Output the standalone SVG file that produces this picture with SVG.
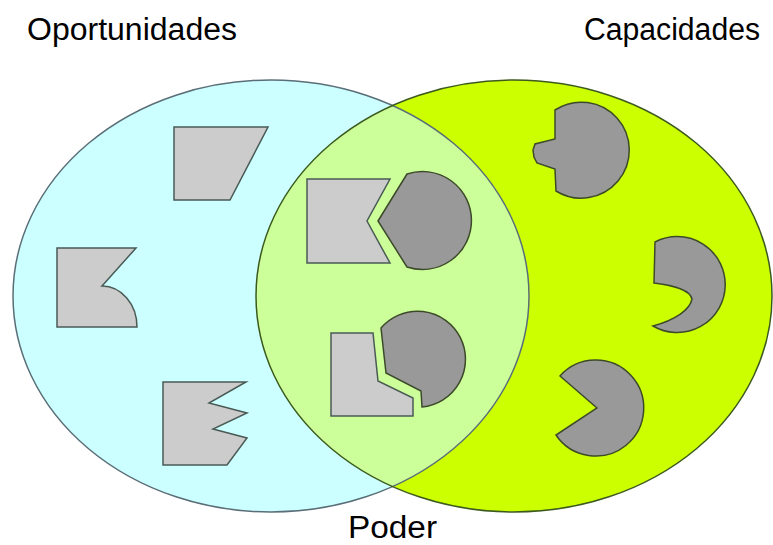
<svg xmlns="http://www.w3.org/2000/svg" width="773" height="545" viewBox="0 0 773 545">
<style>
.lbl{font-family:"Liberation Sans",Arial,sans-serif;font-size:31px;fill:#000}
.light{fill:#cccccc;stroke:#4a5a55;stroke-width:1.5;stroke-linejoin:miter}
.dark{fill:#999999;stroke:#3d4a2a;stroke-width:1.5;stroke-linejoin:miter}
</style>
<defs>
<clipPath id="clipL"><ellipse cx="271" cy="296" rx="258" ry="216"/></clipPath>
</defs>
<rect width="773" height="545" fill="#ffffff"/>
<g id="oportunidades-set">
<ellipse cx="271" cy="296" rx="258" ry="216" fill="#ccffff"/>
</g>
<g id="capacidades-set">
<ellipse cx="514" cy="296" rx="258" ry="216" fill="#ccff00"/>
</g>
<g id="poder-intersection">
<ellipse cx="514" cy="296" rx="258" ry="216" fill="#ccff99" clip-path="url(#clipL)"/>
</g>
<g id="outlines" fill="none" stroke-width="1.5">
<ellipse cx="271" cy="296" rx="258" ry="216" stroke="#5a6e78"/>
<ellipse cx="514" cy="296" rx="258" ry="216" stroke="#3c5a1e"/>
</g>
<g id="connectors"/>
<g id="shape-trapezoid"><path class="light" d="M174,127 L268,127 L230,200 L174,200 Z"/></g>
<g id="shape-curved-notch"><path class="light" d="M57,248 L136,248 L102,286 A35,41 0 0 1 137,327 L57,327 Z"/></g>
<g id="shape-zigzag"><path class="light" d="M163,382 L246,382 L209,403 L247,413 L213,429 L247,438 L227,465 L163,465 Z"/></g>
<g id="shape-notch-square"><path class="light" d="M307,179 L390,179 L367,221 L390,263 L307,263 Z"/></g>
<g id="shape-wedge-circle"><path class="dark" d="M378,221 L407,174 A49,49 0 1 1 407,267 Z"/></g>
<g id="shape-boot"><path class="light" d="M331,333 L373,333 L378,381 L413,398 L413,416 L331,416 Z"/></g>
<g id="shape-cut-circle"><path class="dark" d="M386,373 L381,328 A48,48 0 1 1 422,407 L421,391 Z"/></g>
<g id="shape-tab-circle"><path class="dark" d="M555,110 A48,48 0 1 1 556,191 L555,169 L537,163 L534,157 L533,150 L535,144 L555,139 Z"/></g>
<g id="shape-crescent"><path class="dark" d="M654,283 L655,242 A48,48 0 1 1 653,326 C675,320 690,310 692,299 C690,290 672,285 654,283 Z"/></g>
<g id="shape-pacman"><path class="dark" d="M597,408 L560,376 A48,48 0 1 1 556,435 Z"/></g>
<g id="labels">
<text class="lbl" x="27" y="40" textLength="210" lengthAdjust="spacingAndGlyphs">Oportunidades</text>
<text class="lbl" x="584" y="40" textLength="176" lengthAdjust="spacingAndGlyphs">Capacidades</text>
<text class="lbl" x="348" y="538" textLength="89" lengthAdjust="spacingAndGlyphs">Poder</text>
</g>
</svg>
